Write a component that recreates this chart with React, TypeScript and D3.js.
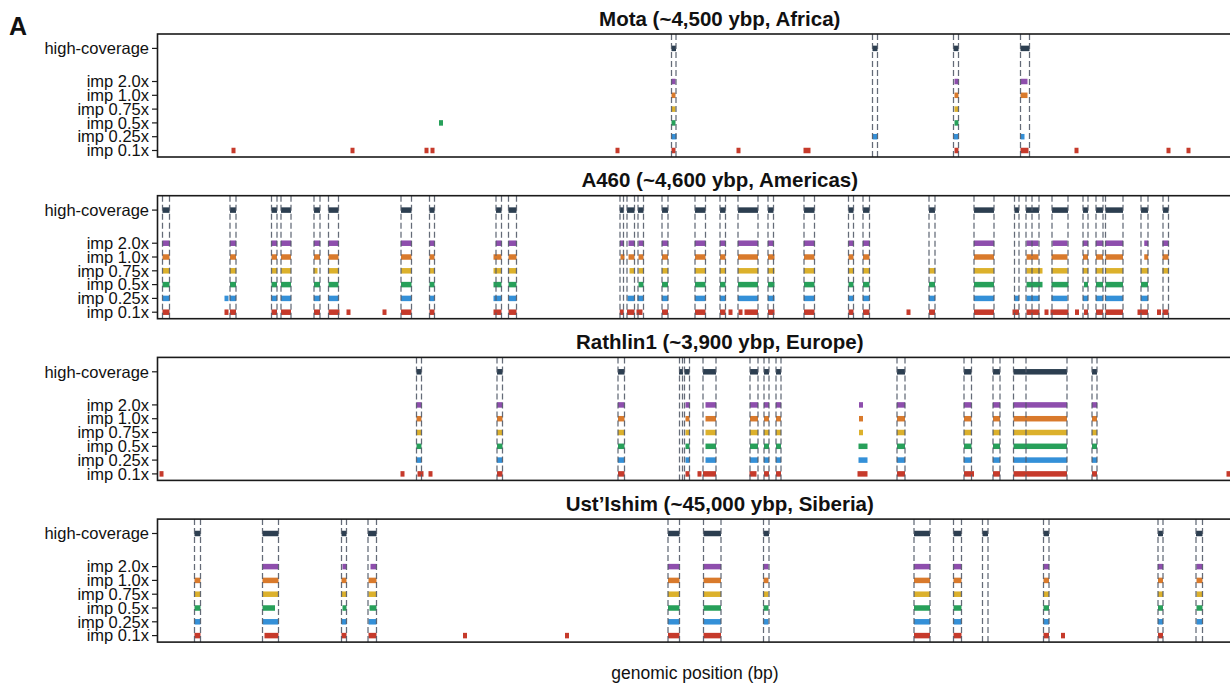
import React from "react";
import * as d3 from "d3";

type Seg = [number, number];

// Track order from bottom to top of each panel
const trackLabels = ["imp 0.1x", "imp 0.25x", "imp 0.5x", "imp 0.75x", "imp 1.0x", "imp 2.0x", "high-coverage"];
const trackSlots = [0, 1, 2, 3, 4, 5, 7.4];
const trackColors = ["#c63a2b", "#3490d8", "#27a05a", "#dcb12c", "#d97a2c", "#8e4ead", "#2c3e50"];

const sampleTitles = [
  "Mota (~4,500 ybp, Africa)",
  "A460 (~4,600 ybp, Americas)",
  "Rathlin1 (~3,900 ybp, Europe)",
  "Ust\u2019Ishim (~45,000 ybp, Siberia)",
];

// Called segments (kb offsets along the region), one list per track, bottom to top
const motaSegments: Seg[][] = [
  [[76, 76], [195, 195], [269, 269], [275, 275], [460, 460], [514, 518], [581, 581], [646, 653], [797, 801], [863, 871], [919, 919], [1011, 1011], [1031, 1031]],
  [[514, 519], [715, 720], [796, 801], [863, 867]],
  [[283.5, 283.5], [514, 518], [797, 801]],
  [[514, 518], [797, 801]],
  [[514, 518], [797, 801], [863, 870]],
  [[514, 518], [797, 801], [863, 870]],
  [[514, 518.5], [715, 720], [796, 801], [863, 872]],
];

const a460Segments: Seg[][] = [
  [[5, 12], [67.5, 70.5], [72.5, 78.5], [114, 119.5], [123.5, 133.5], [156.5, 162.5], [171, 182], [191, 191], [227, 227], [243.5, 254], [272, 277], [336, 344], [351, 359], [462.5, 466], [469.5, 477], [479, 485], [504.5, 510.5], [537.5, 548], [562.5, 568], [573, 573], [581.5, 584.5], [587, 600.5], [610.5, 617], [646.5, 657], [691, 696], [705.5, 712], [751, 751], [771.5, 777.5], [816.5, 836.5], [855, 861.5], [869, 882], [889, 889], [893, 911], [919.5, 919.5], [926.5, 930.5], [938.5, 945.5], [948, 965.5], [980, 990.5], [1001.5, 1001.5], [1005, 1011]],
  [[5, 12], [67.5, 70.5], [72.5, 78.5], [114, 119.5], [123.5, 133.5], [156.5, 162.5], [171, 181], [243.5, 254], [272, 277], [336, 344], [351, 359], [470, 477], [480, 486], [504.5, 510.5], [537.5, 548], [562.5, 568], [580.5, 600.5], [610.5, 617], [646.5, 657], [691, 696], [705.5, 712], [771.5, 777.5], [816.5, 836.5], [857, 861.5], [869, 882], [894, 910], [925.5, 930.5], [938.5, 945.5], [948, 965.5], [983.5, 990.5]],
  [[5, 12], [72.5, 78.5], [114, 119.5], [123.5, 133.5], [156.5, 162.5], [171, 181], [243.5, 254], [272, 277], [336, 344], [351, 359], [481, 486], [504.5, 510.5], [537.5, 548], [562.5, 568], [580.5, 600.5], [610.5, 617], [646.5, 657], [691, 696], [705.5, 712], [771.5, 777.5], [816.5, 836.5], [869, 885], [894, 911], [926.5, 930.5], [938.5, 945.5], [948, 965.5], [983.5, 990.5]],
  [[5, 12], [72.5, 78.5], [114, 119.5], [123.5, 133.5], [156.5, 159.5], [171, 181], [243.5, 254], [272, 277], [336, 344], [351, 359], [472, 477], [481, 486], [504.5, 510.5], [537.5, 548], [562.5, 568], [580.5, 600.5], [610.5, 617], [646.5, 657], [691, 696], [705.5, 712], [771.5, 777.5], [816.5, 836.5], [869, 885], [894, 910], [925.5, 930.5], [938.5, 945.5], [948, 965.5], [983.5, 990.5], [1005, 1011]],
  [[5, 12], [72.5, 78.5], [114, 119.5], [123.5, 133.5], [156.5, 162.5], [171, 181], [243.5, 254], [272, 277], [336, 344], [351, 359], [463, 467], [471, 477], [481, 486], [504.5, 510.5], [537.5, 548], [562.5, 568], [580.5, 600.5], [610.5, 617], [646.5, 657], [691, 696], [705.5, 712], [816.5, 836.5], [869, 881], [894, 910], [925.5, 930.5], [938.5, 945.5], [948, 965.5], [987, 990.5], [1005, 1011]],
  [[5, 12], [72.5, 78.5], [114, 119.5], [123.5, 133.5], [156.5, 162.5], [171, 181], [243.5, 254], [272, 277], [338.5, 344], [351, 359], [463, 466], [471, 477], [481, 486], [504.5, 510.5], [537.5, 548], [562.5, 568], [580.5, 600.5], [610.5, 616], [646.5, 657], [691, 696], [705.5, 712], [816.5, 836.5], [869, 881], [895, 910], [925.5, 930.5], [938.5, 945.5], [948, 965.5], [987, 990.5], [1005, 1011]],
  [[5, 12], [72.5, 78.5], [114, 119.5], [123.5, 133.5], [156.5, 162.5], [171, 181], [243.5, 254], [272, 277], [338.5, 344], [351, 359], [462.5, 466], [469.5, 477], [480.5, 486], [504.5, 510.5], [537.5, 548], [562.5, 568], [580.5, 600.5], [610.5, 616], [646.5, 657], [691, 696], [705.5, 712], [771.5, 777.5], [816.5, 836.5], [857, 861.5], [868.5, 874.5], [874.5, 881.5], [894.5, 910.5], [925.5, 930.5], [938.5, 945.5], [948, 965.5], [983.5, 990.5], [1005.5, 1011]],
];

const rathlinSegments: Seg[][] = [
  [[4, 4], [245, 245], [260, 266], [273, 273], [339.5, 345], [460.5, 467], [528, 532], [542, 542], [545.5, 558.5], [592, 599], [606.5, 611.5], [618.5, 623.5], [700, 710], [739.5, 747.5], [806.5, 816.5], [835.5, 842.5], [856, 909.5], [934.5, 939.5], [1071, 1071]],
  [[259, 264], [339.5, 345], [460.5, 467], [528, 532], [548, 558.5], [592.5, 600.5], [606.5, 611.5], [618.5, 623.5], [701, 710], [739.5, 747.5], [806.5, 814], [835.5, 842.5], [856, 909.5], [934.5, 939.5]],
  [[259, 264], [339.5, 345], [460.5, 467], [528, 532], [548, 558.5], [592.5, 600.5], [606.5, 611.5], [618.5, 623.5], [701, 710], [739.5, 747.5], [806.5, 814], [835.5, 842.5], [856, 909.5], [934.5, 939.5]],
  [[259, 264], [339.5, 345], [460.5, 467], [528, 532], [548, 558.5], [592.5, 600.5], [606.5, 611.5], [618.5, 623.5], [702.5, 704.5], [739.5, 747.5], [806.5, 814], [835.5, 842.5], [856, 909.5], [934.5, 939.5]],
  [[259, 264], [339.5, 345], [460.5, 467], [528, 532], [548, 558.5], [592.5, 600.5], [606.5, 611.5], [618.5, 623.5], [702.5, 704.5], [739.5, 747.5], [806.5, 814], [835.5, 842.5], [856, 909.5], [934.5, 939.5]],
  [[259, 264], [339.5, 345], [460.5, 467], [528, 532], [548, 558.5], [592.5, 600.5], [606.5, 611.5], [618.5, 623.5], [702.5, 704.5], [739.5, 747.5], [806.5, 814], [835.5, 842.5], [856, 909.5], [934.5, 939.5]],
  [[259, 264], [339.5, 345], [460.5, 467], [522, 525], [527, 532], [545.5, 558.5], [592.5, 600.5], [606.5, 611.5], [618.5, 623.5], [739.5, 747.5], [806.5, 814], [835.5, 842.5], [856, 868.5], [868.5, 909.5], [934.5, 939.5]],
];

const ustIshimSegments: Seg[][] = [
  [[37, 43], [107, 121], [184, 189], [211, 219], [307.5, 307.5], [409.5, 409.5], [510.5, 522], [546, 563.5], [756.5, 772.5], [796, 804], [886, 891.5], [905.5, 905.5], [1000.5, 1005.5]],
  [[37, 43], [105, 121], [184, 189], [211, 219], [510.5, 522], [546, 563.5], [606, 611], [756.5, 772.5], [796, 804], [886, 891.5], [1000.5, 1005.5], [1039, 1045]],
  [[37, 43], [105, 117.5], [185, 189], [212, 219], [510.5, 522], [546, 563.5], [606, 611], [756.5, 772.5], [796, 804], [886, 891.5], [1000.5, 1005.5], [1039, 1045]],
  [[37, 43], [105, 121], [184, 189], [211, 219], [510.5, 522], [546, 563.5], [606, 611], [756.5, 772.5], [796, 804], [886, 891.5], [1000.5, 1005.5], [1039, 1045]],
  [[37, 43], [105, 121], [184, 189], [211, 219], [510.5, 522], [546, 563.5], [606, 611], [756.5, 772.5], [796, 804], [886, 891.5], [1000.5, 1005.5], [1039, 1045]],
  [[105, 121], [185, 189], [213, 219], [510.5, 522], [546, 563.5], [606, 611], [756.5, 772.5], [796, 804], [886, 891.5], [1000.5, 1005.5], [1039, 1045]],
  [[37, 43], [105, 121], [184, 189], [210.5, 219], [510.5, 522], [546, 563.5], [606, 611.5], [756.5, 772.5], [796, 804], [825, 830.5], [886, 891.5], [1000.5, 1005.5], [1038.5, 1045]],
];

const samples = [motaSegments, a460Segments, rathlinSegments, ustIshimSegments];

const W = 1230;
const H = 689;
const FONT = "'Liberation Sans', Arial, Helvetica, sans-serif";
const plotLeft = 157.5;
const plotRight = 1282;
const panelTop0 = 34;
const panelStep = 161.7;
const panelH = 123;
const markH = 5.5;
const minMarkW = 4;

const x = d3.scaleLinear().domain([0, 1124.5]).range([plotLeft, plotRight]);

function Panel({ idx }: { idx: number }) {
  const top = panelTop0 + idx * panelStep;
  const y = d3.scaleLinear().domain([0, 7.4]).range([top + 116.5, top + 14.4]);
  const tracks = samples[idx];
  const hc = tracks[tracks.length - 1];
  const bounds = Array.from(new Set(hc.flatMap(([s, e]) => [s, e])));
  const clipId = `clip-${idx}`;
  return (
    <g>
      <defs>
        <clipPath id={clipId}>
          <rect x={plotLeft} y={top} width={plotRight - plotLeft} height={panelH} />
        </clipPath>
      </defs>
      <text x={(plotLeft + plotRight) / 2} y={top - 8.5} textAnchor="middle" fontFamily={FONT} fontWeight="bold" fontSize={20.5} fill="#111">
        {sampleTitles[idx]}
      </text>
      <g clipPath={`url(#${clipId})`}>
        {tracks.map((segs, t) =>
          segs.map(([s, e], k) => {
            let x1 = x(s);
            let w = x(e) - x(s);
            if (w < minMarkW) {
              x1 = (x(s) + x(e)) / 2 - minMarkW / 2;
              w = minMarkW;
            }
            return (
              <rect key={`${t}-${k}`} x={x1} y={y(trackSlots[t]) - markH / 2} width={w} height={markH} fill={trackColors[t]} />
            );
          })
        )}
        {bounds.map((b, k) => (
          <line key={`d${k}`} x1={x(b)} x2={x(b)} y1={top} y2={top + panelH} stroke="#545b6a" strokeWidth={1.25} strokeDasharray="6,3" opacity={0.9} />
        ))}
      </g>
      <rect x={plotLeft} y={top} width={plotRight - plotLeft} height={panelH} fill="none" stroke="#1a1a1a" strokeWidth={1.6} />
      {trackLabels.map((lab, t) => (
        <g key={lab}>
          <line x1={plotLeft - 5.5} x2={plotLeft} y1={y(trackSlots[t])} y2={y(trackSlots[t])} stroke="#1a1a1a" strokeWidth={1.2} />
          <text x={plotLeft - 8.5} y={y(trackSlots[t])} dy="0.35em" textAnchor="end" fontFamily={FONT} fontSize={16.5} fill="#111">
            {lab}
          </text>
        </g>
      ))}
    </g>
  );
}

export default function App() {
  return (
    <svg width={W} height={H} style={{ position: "absolute", left: 0, top: 0, background: "#fff" }}>
      <rect x={0} y={0} width={W} height={H} fill="#fff" />
      <text x={9} y={35} fontFamily={FONT} fontWeight="bold" fontSize={25} fill="#111">
        A
      </text>
      {samples.map((_, i) => (
        <Panel key={i} idx={i} />
      ))}
      <text x={695} y={679} textAnchor="middle" fontFamily={FONT} fontSize={17.5} fill="#111">
        genomic position (bp)
      </text>
    </svg>
  );
}
